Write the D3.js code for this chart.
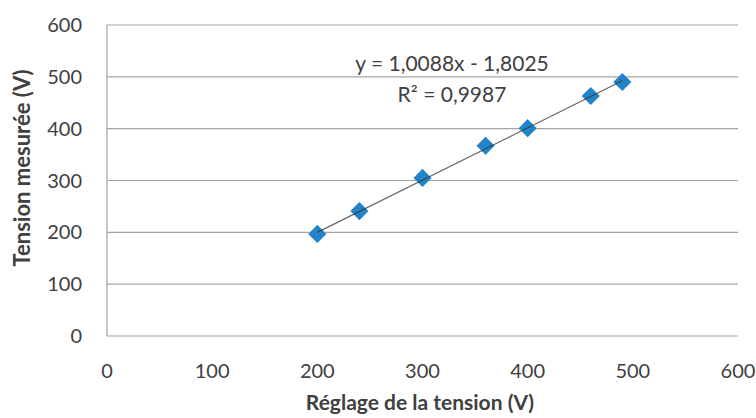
<!DOCTYPE html>
<html lang='fr'>
  <head>
    <meta charset='utf-8'>
    <title>Tension mesurée</title>
    <script src='https://d3js.org/d3.v7.min.js'></script>
    <style>
      html, body { margin: 0; padding: 0; background: #fff; }
      svg text { font-family: Lato, 'Open Sans', sans-serif; fill: #404040; }
    </style>
  </head>
  <body>
    <div class='vis'></div>
    <script>
      // data
      const reglage = [200, 240, 300, 360, 400, 460, 490];
      const mesure = [197, 241, 305, 367, 401, 463, 490];
      const xTicks = [0, 100, 200, 300, 400, 500, 600];
      const yTicks = [0, 100, 200, 300, 400, 500, 600];
      const slope = 1.0088, intercept = -1.8025;
      const eqLines = ['y = 1,0088x - 1,8025', 'R² = 0,9987'];

      const width = 756, height = 418;
      const svg = d3.select('.vis').append('svg')
        .attr('width', width)
        .attr('height', height);

      const x = d3.scaleLinear().domain([0, 600]).range([107, 738]);
      const y = d3.scaleLinear().domain([0, 600]).range([336, 25]);

      // gridlines
      svg.append('g').selectAll('line')
        .data(yTicks).enter().append('line')
          .attr('x1', x(0)).attr('x2', x(600))
          .attr('y1', (d) => y(d)).attr('y2', (d) => y(d))
          .attr('stroke', '#a3a3a3')
          .attr('stroke-width', 1.2);

      // left axis line
      svg.append('line')
        .attr('x1', x(0)).attr('x2', x(0))
        .attr('y1', y(0)).attr('y2', y(600))
        .attr('stroke', '#a3a3a3')
        .attr('stroke-width', 1.2);

      // tick labels
      svg.append('g').selectAll('text')
        .data(yTicks).enter().append('text')
          .attr('x', 82)
          .attr('y', (d) => y(d))
          .attr('dy', '0.35em')
          .attr('text-anchor', 'end')
          .style('font-size', '20px')
          .text((d) => d);

      svg.append('g').selectAll('text')
        .data(xTicks).enter().append('text')
          .attr('x', (d) => x(d))
          .attr('y', 371)
          .attr('dy', '0.35em')
          .attr('text-anchor', 'middle')
          .style('font-size', '20px')
          .text((d) => d);

      // axis titles
      svg.append('text')
        .attr('x', 420).attr('y', 403)
        .attr('dy', '0.35em')
        .attr('text-anchor', 'middle')
        .style('font-size', '21px')
        .style('font-weight', 'bold')
        .text('Réglage de la tension (V)');

      svg.append('text')
        .attr('transform', 'translate(22,168) rotate(-90)')
        .attr('dy', '0.35em')
        .attr('text-anchor', 'middle')
        .style('font-size', '22px')
        .style('font-weight', 'bold')
        .text('Tension mesurée (V)');

      // markers
      const diamond = d3.symbol().type(d3.symbolDiamond2).size(210);
      svg.append('g').selectAll('path')
        .data(reglage).enter().append('path')
          .attr('transform', (d, i) => 'translate(' + x(d) + ',' + y(mesure[i]) + ')')
          .attr('d', diamond)
          .attr('fill', '#2383c8');

      // trend line (thin, drawn over the markers)
      const xr = d3.extent(reglage);
      svg.append('line')
        .attr('x1', x(xr[0])).attr('y1', y(slope * xr[0] + intercept))
        .attr('x2', x(xr[1])).attr('y2', y(slope * xr[1] + intercept))
        .attr('stroke', '#333')
        .attr('stroke-opacity', 0.75)
        .attr('stroke-width', 1.2);

      // equation label
      svg.append('g').selectAll('text')
        .data(eqLines).enter().append('text')
          .attr('x', 452)
          .attr('y', (d, i) => 64 + i * 31)
          .attr('dy', '0.35em')
          .attr('text-anchor', 'middle')
          .style('font-size', '21px')
          .text((d) => d);
    </script>
  </body>
</html>
